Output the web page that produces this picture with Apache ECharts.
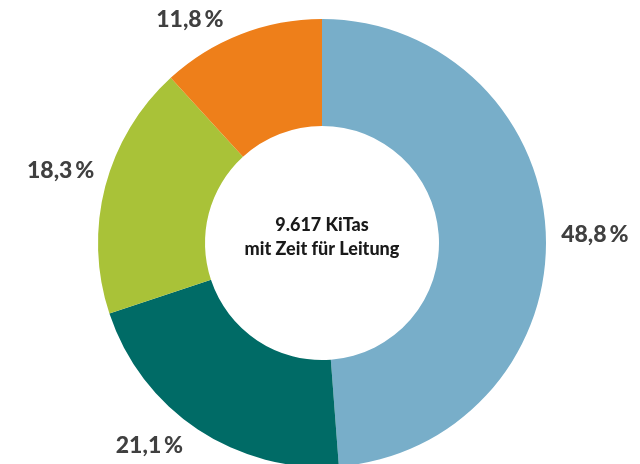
<!DOCTYPE html>
<html>
<head>
<meta charset="utf-8">
<script src="https://cdn.jsdelivr.net/npm/echarts@6/dist/echarts.min.js"></script>
<style>html,body{margin:0;padding:0;background:#fff}#c{width:640px;height:464px}</style>
</head>
<body>
<div id="c"></div>
<script>
const categories = ['Anteil A', 'Anteil B', 'Anteil C', 'Anteil D'];
const values = [48.8, 21.1, 18.3, 11.8];
const colors = ['#78AEC9', '#006B66', '#A9C238', '#EE7F1A'];
const labelOffsets = [[5, 2], [-24, -20], [-2, -5], [-35, 26]];
const centerText = ['9.617 KiTas', 'mit Zeit für Leitung'];

const chart = echarts.init(document.getElementById('c'), null, {renderer: 'canvas'});
const fmt = v => v.toFixed(1).replace('.', ',') + '\u2009%';
const center = [322, 243];

chart.setOption({
  animation: false,
  series: [
    {
      type: 'pie',
      center: center,
      radius: [117, 224],
      startAngle: 90,
      clockwise: true,
      silent: true,
      label: {show: false},
      labelLine: {show: false},
      itemStyle: {borderWidth: 0},
      data: values.map((v, i) => ({name: categories[i], value: v, itemStyle: {color: colors[i]}}))
    },
    {
      type: 'pie',
      center: center,
      radius: [250, 280],
      startAngle: 90,
      clockwise: true,
      silent: true,
      itemStyle: {color: 'rgba(0,0,0,0)'},
      labelLine: {show: false},
      data: values.map((v, i) => ({
        name: categories[i], value: v,
        label: {
          show: true, position: 'inside', offset: labelOffsets[i],
          formatter: () => fmt(v),
          color: '#404040', fontFamily: 'Lato', fontWeight: 900, fontSize: 23
        }
      }))
    }
  ],
  graphic: [{
    type: 'text',
    x: 322, y: 237,
    style: {
      text: centerText.join('\n'),
      textAlign: 'center', textVerticalAlign: 'middle',
      fill: '#1a1a1a', fontFamily: 'Lato', fontWeight: 900, fontSize: 18, lineHeight: 24
    }
  }]
});
</script>
</body>
</html>
